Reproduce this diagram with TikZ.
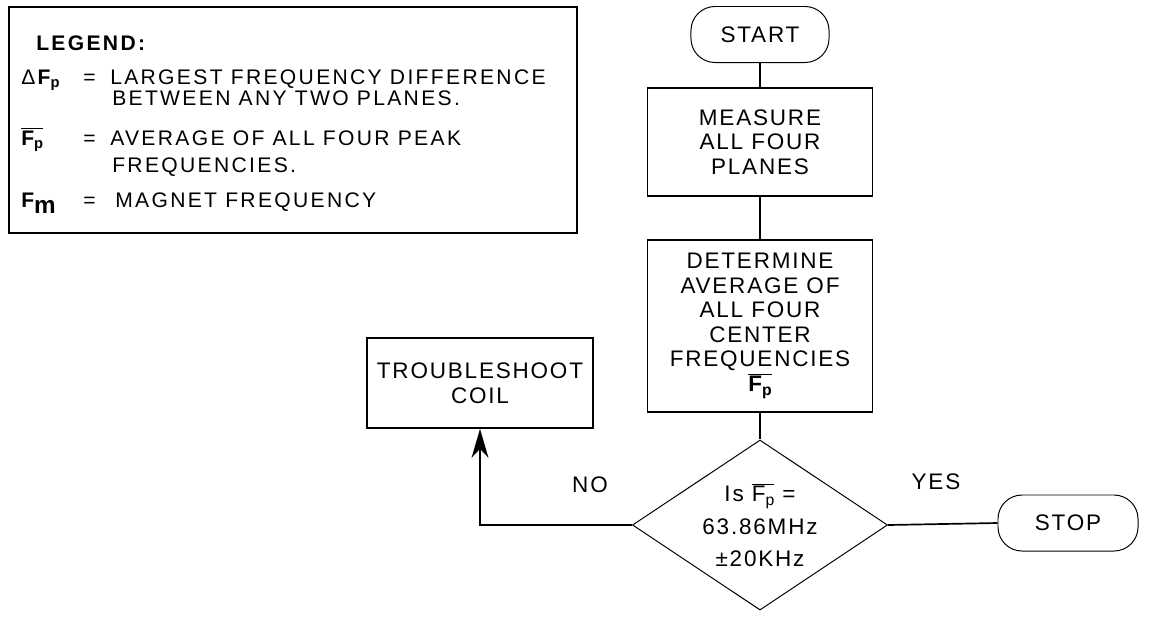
\documentclass[tikz,border=0pt]{standalone}
\usepackage{fontspec}
\setmainfont{Liberation Sans}
\newfontfamily\legendfont{Liberation Sans}[LetterSpace=11]
\newfontfamily\chartfont{Liberation Sans}[LetterSpace=8]
\usepackage{graphicx}
\usepackage{tikz}
\usetikzlibrary{shapes.geometric,arrows.meta,positioning}

\newcommand{\psub}{\raisebox{-0.35ex}{\scalebox{0.7}{p}}}
\newcommand{\msub}{\raisebox{-0.6ex}{\scalebox{1.15}{m}}}
\newcommand{\fbar}[1]{$\overline{\hbox{#1}}$}

\tikzset{
  flow/.style={font=\chartfont\fontsize{16}{17.5}\selectfont, align=center},
  procbox/.style={flow, draw, line width=1.2pt, inner sep=0pt, minimum width=5.625cm},
  termbox/.style={flow, draw, line width=0.7pt, rounded corners=0.6cm, minimum width=3.45cm, minimum height=1.4cm},
  decbox/.style={flow, draw, diamond, line width=0.7pt, inner sep=0pt, aspect=1.5,
    minimum width=6.375cm, minimum height=4.25cm, font=\chartfont\fontsize{16}{23}\selectfont},
  legtext/.style={font=\legendfont\fontsize{15}{17}\selectfont, anchor=base west, inner sep=0pt, text depth=0pt},
  link/.style={line width=1.2pt},
}

\begin{document}
\begin{tikzpicture}[x=0.025cm, y=-0.025cm]
  \useasboundingbox (0,0) rectangle (1150,621);

  % Legend
  \draw[line width=1.2pt] (9,7) rectangle (577,233);
  \node[legtext] (leghead) at (36,50) {\bfseries LEGEND:};
  \node[legtext] (symdf) at (21,84) {Δ\textbf{F\psub}};
  \node[legtext] (eqdf) at (83,84) {=};
  \node[legtext] (txtdfa) at (110,84) {LARGEST FREQUENCY DIFFERENCE};
  \node[legtext] (txtdfb) at (112,105) {BETWEEN ANY TWO PLANES.};
  \node[legtext] (symfp) at (21,145) {\bfseries\fbar{F\psub}};
  \node[legtext] (eqfp) at (83,145) {=};
  \node[legtext] (txtfpa) at (110,145) {AVERAGE OF ALL FOUR PEAK};
  \node[legtext] (txtfpb) at (112,172) {FREQUENCIES.};
  \node[legtext] (symfm) at (21,207) {\bfseries F\msub};
  \node[legtext] (eqfm) at (83,207) {=};
  \node[legtext] (txtfm) at (115,207) {MAGNET FREQUENCY};

  % Flow chart
  \node[termbox] (start) at (760,34.5) {START};
  \node[procbox, minimum height=2.7cm] (measure) at (760,142) {MEASURE\\ALL FOUR\\PLANES};
  \node[procbox, minimum height=4.3cm] (determine) at (760,326)
    {DETERMINE\\AVERAGE OF\\ALL FOUR\\CENTER\\FREQUENCIES\\{\bfseries\fbar{F\psub}}};
  \node[decbox] (check) at (760,525) {Is \fbar{F\psub} =\\63.86MHz\\±20KHz};
  \node[procbox, minimum width=5.65cm, minimum height=2.25cm] (trouble) at (480,383) {TROUBLESHOOT\\COIL};
  \node[termbox, minimum width=3.5cm] (stop) at (1068,523) {STOP};
  \node[flow] (nolbl) at (590,485) {NO};
  \node[flow] (yeslbl) at (936,482) {YES};

  \draw[link] (start) -- (measure);
  \draw[link] (measure) -- (determine);
  \draw[link] (determine) -- (check);
  \draw[link, -{Stealth[length=0.72cm, width=0.42cm, inset=0.22cm]}] (check.west) -| (trouble.south);
  \draw[link] (check.east) -- (stop.west);
\end{tikzpicture}
\end{document}
